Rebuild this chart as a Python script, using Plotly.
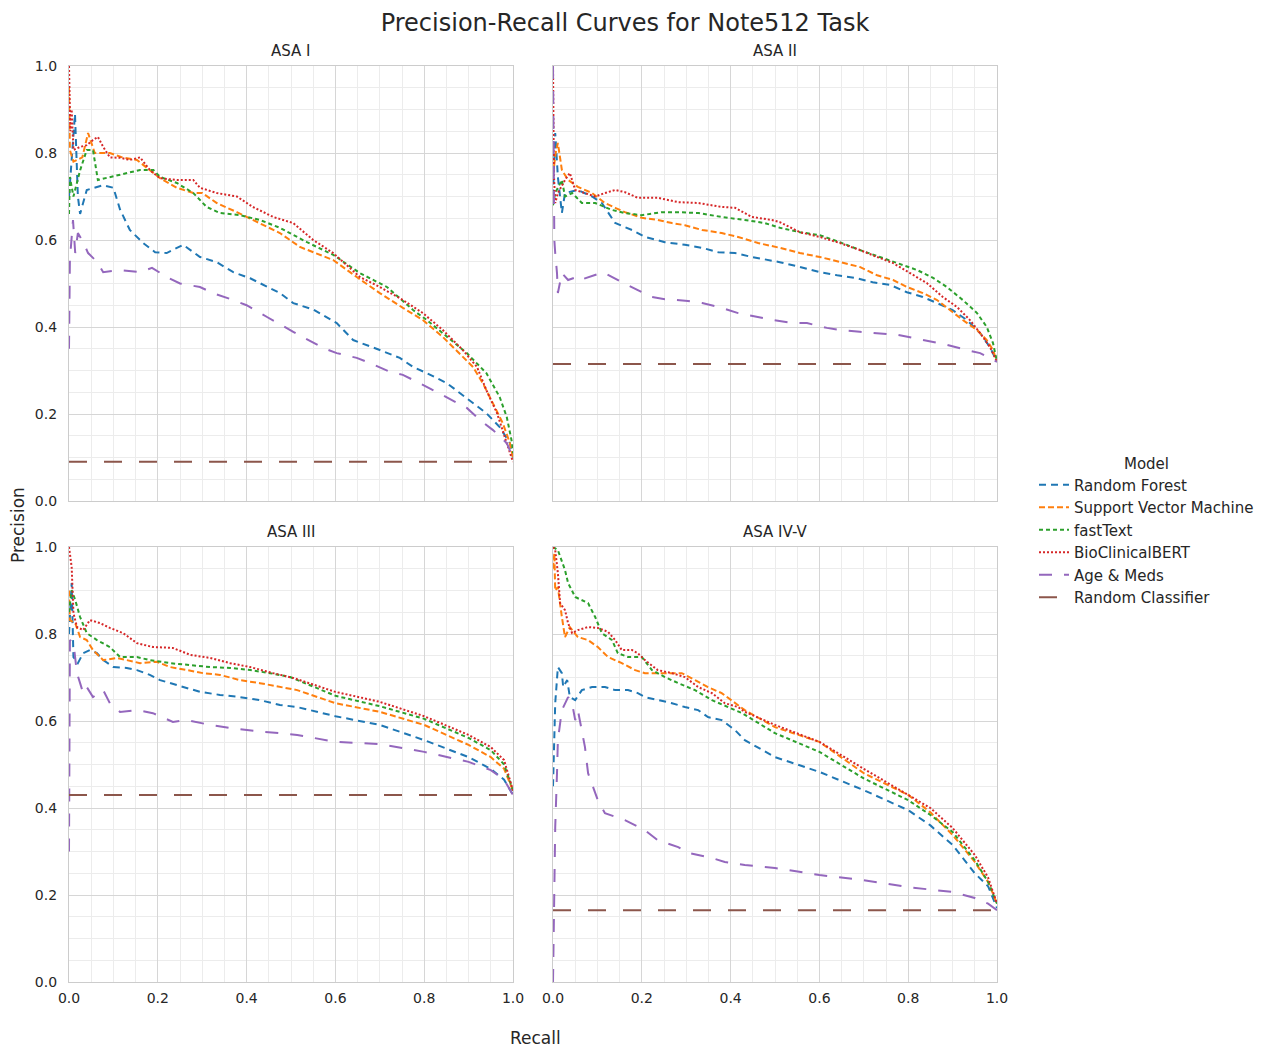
import plotly.graph_objects as go

# The page body has an 8px margin, so the figure is drawn 8px in from the window edge.
OFF = 8
W, H = 1263 - OFF, 1046 - OFF

models = ["Random Forest", "Support Vector Machine", "fastText", "BioClinicalBERT", "Age & Meds"]
panels = ["ASA I", "ASA II", "ASA III", "ASA IV-V"]
baseline_precision = [0.09, 0.315, 0.43, 0.165]
ticks = [0.0, 0.2, 0.4, 0.6, 0.8, 1.0]

# ---------------- ASA I ----------------
asa1_rf_recall = [0, 0.005, 0.0135, 0.02, 0.025, 0.04, 0.077, 0.1, 0.115, 0.137, 0.167, 0.194, 0.22, 0.257, 0.295, 0.333, 0.37, 0.408, 0.446, 0.475, 0.505, 0.55, 0.603, 0.64, 0.70, 0.745, 0.775, 0.806, 0.851, 0.88, 0.91, 0.94, 0.97, 0.993, 1.0]
asa1_rf_precision = [0.70, 0.78, 0.89, 0.70, 0.66, 0.715, 0.726, 0.72, 0.67, 0.623, 0.593, 0.572, 0.57, 0.589, 0.561, 0.549, 0.526, 0.512, 0.492, 0.478, 0.455, 0.44, 0.409, 0.37, 0.347, 0.329, 0.308, 0.294, 0.271, 0.248, 0.225, 0.202, 0.17, 0.133, 0.10]
asa1_svm_recall = [0, 0.002, 0.01, 0.03, 0.043, 0.058, 0.092, 0.12, 0.153, 0.182, 0.205, 0.243, 0.28, 0.30, 0.333, 0.378, 0.43, 0.475, 0.52, 0.595, 0.648, 0.70, 0.752, 0.797, 0.842, 0.887, 0.91, 0.932, 0.955, 0.977, 0.993, 1.0]
asa1_svm_precision = [0.95, 0.807, 0.78, 0.79, 0.846, 0.80, 0.80, 0.79, 0.784, 0.76, 0.742, 0.72, 0.708, 0.708, 0.685, 0.664, 0.639, 0.616, 0.584, 0.554, 0.515, 0.478, 0.444, 0.416, 0.377, 0.331, 0.308, 0.271, 0.225, 0.179, 0.133, 0.10]
asa1_ft_recall = [0, 0.002, 0.01, 0.025, 0.04, 0.054, 0.065, 0.092, 0.13, 0.16, 0.19, 0.205, 0.243, 0.28, 0.31, 0.34, 0.385, 0.43, 0.475, 0.536, 0.595, 0.655, 0.716, 0.775, 0.806, 0.851, 0.896, 0.94, 0.97, 0.986, 0.998, 1.0]
asa1_ft_precision = [0.66, 0.745, 0.70, 0.76, 0.807, 0.807, 0.738, 0.745, 0.754, 0.761, 0.761, 0.745, 0.731, 0.708, 0.676, 0.662, 0.657, 0.646, 0.628, 0.595, 0.566, 0.524, 0.492, 0.439, 0.416, 0.377, 0.34, 0.294, 0.239, 0.193, 0.133, 0.11]
asa1_bert_recall = [0, 0.003, 0.006, 0.01, 0.025, 0.04, 0.054, 0.065, 0.077, 0.092, 0.115, 0.137, 0.16, 0.182, 0.205, 0.243, 0.28, 0.295, 0.333, 0.378, 0.414, 0.46, 0.505, 0.55, 0.595, 0.655, 0.70, 0.752, 0.797, 0.842, 0.887, 0.919, 0.94, 0.964, 0.986, 1.0]
asa1_bert_precision = [1.0, 0.85, 0.9, 0.807, 0.814, 0.818, 0.83, 0.837, 0.814, 0.79, 0.789, 0.784, 0.79, 0.761, 0.742, 0.738, 0.738, 0.72, 0.708, 0.70, 0.676, 0.653, 0.639, 0.60, 0.57, 0.515, 0.492, 0.462, 0.432, 0.393, 0.347, 0.308, 0.255, 0.202, 0.133, 0.09]
asa1_age_recall = [0, 0.002, 0.009, 0.014, 0.02, 0.032, 0.043, 0.063, 0.077, 0.115, 0.16, 0.187, 0.22, 0.25, 0.295, 0.324, 0.37, 0.40, 0.446, 0.468, 0.505, 0.572, 0.603, 0.648, 0.678, 0.723, 0.752, 0.797, 0.82, 0.865, 0.896, 0.926, 0.955, 0.986, 1.0]
asa1_age_precision = [0.35, 0.554, 0.646, 0.57, 0.616, 0.595, 0.57, 0.55, 0.526, 0.531, 0.526, 0.536, 0.515, 0.50, 0.492, 0.478, 0.462, 0.45, 0.423, 0.411, 0.389, 0.352, 0.34, 0.329, 0.317, 0.297, 0.29, 0.267, 0.255, 0.232, 0.214, 0.186, 0.163, 0.133, 0.10]

# ---------------- ASA II ----------------
asa2_rf_recall = [0, 0.005, 0.011, 0.02, 0.027, 0.056, 0.088, 0.11, 0.14, 0.178, 0.207, 0.252, 0.297, 0.336, 0.372, 0.41, 0.448, 0.484, 0.511, 0.556, 0.601, 0.64, 0.685, 0.72, 0.759, 0.797, 0.833, 0.865, 0.90, 0.932, 0.962, 0.984, 1.0]
asa2_rf_precision = [0.70, 0.846, 0.745, 0.662, 0.708, 0.715, 0.70, 0.685, 0.639, 0.623, 0.607, 0.595, 0.589, 0.582, 0.572, 0.57, 0.561, 0.554, 0.549, 0.538, 0.526, 0.519, 0.512, 0.503, 0.497, 0.48, 0.469, 0.455, 0.439, 0.416, 0.386, 0.354, 0.32]
asa2_svm_recall = [0, 0.006, 0.011, 0.016, 0.02, 0.034, 0.056, 0.088, 0.117, 0.14, 0.162, 0.20, 0.236, 0.268, 0.297, 0.336, 0.38, 0.417, 0.462, 0.511, 0.556, 0.601, 0.646, 0.691, 0.73, 0.766, 0.797, 0.833, 0.865, 0.894, 0.923, 0.955, 0.977, 0.991, 1.0]
asa2_svm_precision = [0.75, 0.80, 0.823, 0.784, 0.761, 0.738, 0.722, 0.708, 0.685, 0.674, 0.664, 0.651, 0.646, 0.639, 0.634, 0.623, 0.616, 0.607, 0.593, 0.582, 0.57, 0.561, 0.549, 0.538, 0.519, 0.508, 0.492, 0.478, 0.462, 0.439, 0.416, 0.393, 0.37, 0.347, 0.32]
asa2_ft_recall = [0, 0.005, 0.02, 0.027, 0.043, 0.065, 0.095, 0.133, 0.162, 0.20, 0.245, 0.282, 0.327, 0.38, 0.432, 0.477, 0.511, 0.556, 0.601, 0.646, 0.691, 0.736, 0.78, 0.82, 0.856, 0.887, 0.923, 0.955, 0.977, 0.991, 1.0]
asa2_ft_precision = [0.68, 0.708, 0.738, 0.70, 0.708, 0.685, 0.685, 0.669, 0.662, 0.657, 0.664, 0.664, 0.662, 0.653, 0.646, 0.639, 0.628, 0.618, 0.611, 0.595, 0.577, 0.561, 0.547, 0.531, 0.513, 0.492, 0.462, 0.432, 0.40, 0.363, 0.32]
asa2_bert_recall = [0, 0.002, 0.005, 0.011, 0.027, 0.038, 0.05, 0.072, 0.095, 0.117, 0.14, 0.162, 0.191, 0.236, 0.282, 0.327, 0.38, 0.41, 0.448, 0.493, 0.511, 0.556, 0.601, 0.646, 0.691, 0.73, 0.766, 0.804, 0.842, 0.878, 0.91, 0.939, 0.962, 0.984, 1.0]
asa2_bert_precision = [1.0, 0.75, 0.685, 0.708, 0.738, 0.754, 0.715, 0.708, 0.70, 0.708, 0.715, 0.71, 0.697, 0.697, 0.687, 0.685, 0.676, 0.674, 0.653, 0.646, 0.641, 0.618, 0.607, 0.593, 0.577, 0.561, 0.547, 0.524, 0.501, 0.469, 0.446, 0.416, 0.386, 0.354, 0.32]
asa2_age_recall = [0, 0.001, 0.003, 0.005, 0.009, 0.011, 0.02, 0.034, 0.054, 0.061, 0.095, 0.113, 0.155, 0.18, 0.223, 0.252, 0.304, 0.336, 0.38, 0.417, 0.462, 0.496, 0.541, 0.572, 0.617, 0.646, 0.691, 0.73, 0.775, 0.811, 0.856, 0.887, 0.932, 0.962, 1.0]
asa2_age_precision = [1.0, 0.75, 0.60, 0.57, 0.524, 0.478, 0.524, 0.508, 0.515, 0.508, 0.519, 0.526, 0.503, 0.49, 0.469, 0.464, 0.46, 0.455, 0.444, 0.432, 0.423, 0.416, 0.409, 0.409, 0.398, 0.393, 0.389, 0.386, 0.382, 0.375, 0.366, 0.359, 0.347, 0.34, 0.32]

# ---------------- ASA III ----------------
asa3_rf_recall = [0, 0.006, 0.01, 0.02, 0.032, 0.047, 0.063, 0.077, 0.10, 0.13, 0.153, 0.182, 0.205, 0.228, 0.257, 0.295, 0.34, 0.385, 0.43, 0.475, 0.514, 0.6, 0.7, 0.8, 0.9, 0.95, 0.98, 1.0]
asa3_rf_precision = [0.80, 0.917, 0.747, 0.733, 0.756, 0.763, 0.756, 0.74, 0.724, 0.722, 0.717, 0.706, 0.694, 0.687, 0.678, 0.667, 0.66, 0.655, 0.648, 0.637, 0.632, 0.611, 0.591, 0.556, 0.517, 0.49, 0.465, 0.43]
asa3_svm_recall = [0, 0.002, 0.014, 0.025, 0.04, 0.054, 0.077, 0.108, 0.13, 0.16, 0.198, 0.228, 0.266, 0.302, 0.34, 0.385, 0.43, 0.475, 0.514, 0.6, 0.7, 0.8, 0.9, 0.95, 0.98, 1.0]
asa3_svm_precision = [0.90, 0.832, 0.825, 0.793, 0.786, 0.763, 0.74, 0.745, 0.74, 0.733, 0.736, 0.724, 0.717, 0.71, 0.706, 0.694, 0.687, 0.678, 0.671, 0.641, 0.621, 0.591, 0.545, 0.517, 0.49, 0.44]
asa3_ft_recall = [0, 0.006, 0.014, 0.025, 0.04, 0.063, 0.092, 0.115, 0.153, 0.182, 0.228, 0.273, 0.318, 0.363, 0.408, 0.453, 0.498, 0.6, 0.7, 0.8, 0.9, 0.95, 0.98, 1.0]
asa3_ft_precision = [0.85, 0.901, 0.878, 0.839, 0.802, 0.786, 0.77, 0.747, 0.747, 0.74, 0.733, 0.729, 0.724, 0.722, 0.717, 0.71, 0.701, 0.658, 0.634, 0.605, 0.561, 0.533, 0.50, 0.44]
asa3_bert_recall = [0, 0.003, 0.006, 0.01, 0.018, 0.032, 0.047, 0.07, 0.092, 0.122, 0.153, 0.189, 0.234, 0.273, 0.318, 0.363, 0.408, 0.46, 0.505, 0.6, 0.7, 0.8, 0.9, 0.95, 0.98, 1.0]
asa3_bert_precision = [1.0, 0.98, 0.954, 0.848, 0.816, 0.809, 0.832, 0.825, 0.814, 0.802, 0.779, 0.77, 0.768, 0.752, 0.745, 0.733, 0.724, 0.71, 0.699, 0.667, 0.644, 0.611, 0.568, 0.54, 0.51, 0.44]
asa3_age_recall = [0, 0.002, 0.01, 0.018, 0.025, 0.032, 0.04, 0.054, 0.077, 0.092, 0.115, 0.153, 0.189, 0.234, 0.266, 0.318, 0.363, 0.40, 0.437, 0.475, 0.514, 0.6, 0.7, 0.8, 0.9, 0.95, 0.98, 1.0]
asa3_age_precision = [0.30, 0.786, 0.779, 0.71, 0.687, 0.664, 0.678, 0.655, 0.671, 0.641, 0.621, 0.625, 0.618, 0.598, 0.602, 0.591, 0.584, 0.579, 0.575, 0.572, 0.568, 0.552, 0.547, 0.529, 0.506, 0.487, 0.465, 0.43]

# ---------------- ASA IV-V ----------------
asa4_rf_recall = [0, 0.005, 0.011, 0.02, 0.023, 0.032, 0.038, 0.05, 0.065, 0.088, 0.117, 0.14, 0.169, 0.191, 0.207, 0.236, 0.268, 0.297, 0.327, 0.349, 0.38, 0.41, 0.432, 0.5, 0.6, 0.7, 0.8, 0.85, 0.9, 0.95, 0.98, 1.0]
asa4_rf_precision = [0.45, 0.641, 0.724, 0.71, 0.678, 0.694, 0.655, 0.648, 0.671, 0.678, 0.678, 0.671, 0.671, 0.664, 0.655, 0.648, 0.641, 0.632, 0.625, 0.609, 0.602, 0.579, 0.556, 0.517, 0.483, 0.441, 0.395, 0.36, 0.315, 0.25, 0.22, 0.17]
asa4_svm_recall = [0, 0.003, 0.005, 0.011, 0.02, 0.027, 0.038, 0.056, 0.079, 0.101, 0.124, 0.155, 0.185, 0.207, 0.236, 0.268, 0.29, 0.32, 0.349, 0.38, 0.41, 0.432, 0.5, 0.6, 0.7, 0.8, 0.85, 0.9, 0.95, 0.98, 1.0]
asa4_svm_precision = [0.95, 0.986, 0.90, 0.908, 0.839, 0.793, 0.816, 0.793, 0.786, 0.77, 0.747, 0.733, 0.717, 0.71, 0.71, 0.71, 0.71, 0.694, 0.678, 0.664, 0.641, 0.625, 0.586, 0.552, 0.48, 0.43, 0.39, 0.338, 0.276, 0.23, 0.18]
asa4_ft_recall = [0, 0.011, 0.027, 0.034, 0.05, 0.065, 0.079, 0.095, 0.11, 0.133, 0.146, 0.169, 0.20, 0.223, 0.252, 0.282, 0.32, 0.358, 0.394, 0.426, 0.5, 0.6, 0.7, 0.8, 0.85, 0.9, 0.95, 0.98, 1.0]
asa4_ft_precision = [1.0, 0.993, 0.947, 0.917, 0.885, 0.878, 0.871, 0.839, 0.802, 0.786, 0.756, 0.747, 0.747, 0.717, 0.701, 0.687, 0.671, 0.648, 0.632, 0.618, 0.572, 0.529, 0.468, 0.418, 0.384, 0.345, 0.28, 0.23, 0.18]
asa4_bert_recall = [0, 0.005, 0.011, 0.016, 0.027, 0.034, 0.043, 0.056, 0.079, 0.101, 0.124, 0.14, 0.155, 0.178, 0.191, 0.207, 0.236, 0.268, 0.297, 0.327, 0.358, 0.387, 0.417, 0.432, 0.5, 0.6, 0.7, 0.8, 0.85, 0.9, 0.95, 0.98, 1.0]
asa4_bert_precision = [1.0, 0.993, 0.94, 0.871, 0.855, 0.825, 0.802, 0.809, 0.816, 0.814, 0.805, 0.786, 0.763, 0.763, 0.756, 0.74, 0.717, 0.71, 0.701, 0.678, 0.664, 0.641, 0.632, 0.621, 0.591, 0.552, 0.49, 0.43, 0.40, 0.354, 0.292, 0.24, 0.18]
asa4_age_recall = [0, 0.003, 0.005, 0.009, 0.011, 0.02, 0.034, 0.043, 0.05, 0.056, 0.065, 0.072, 0.079, 0.101, 0.117, 0.14, 0.162, 0.207, 0.236, 0.282, 0.304, 0.358, 0.387, 0.432, 0.5, 0.6, 0.7, 0.8, 0.9, 0.95, 0.98, 1.0]
asa4_age_precision = [0.0, 0.2, 0.356, 0.48, 0.556, 0.625, 0.655, 0.641, 0.602, 0.625, 0.572, 0.54, 0.48, 0.418, 0.388, 0.379, 0.372, 0.349, 0.326, 0.31, 0.297, 0.285, 0.276, 0.269, 0.262, 0.246, 0.234, 0.218, 0.207, 0.193, 0.18, 0.165]

curves = [
    [(asa1_rf_recall, asa1_rf_precision), (asa1_svm_recall, asa1_svm_precision), (asa1_ft_recall, asa1_ft_precision), (asa1_bert_recall, asa1_bert_precision), (asa1_age_recall, asa1_age_precision)],
    [(asa2_rf_recall, asa2_rf_precision), (asa2_svm_recall, asa2_svm_precision), (asa2_ft_recall, asa2_ft_precision), (asa2_bert_recall, asa2_bert_precision), (asa2_age_recall, asa2_age_precision)],
    [(asa3_rf_recall, asa3_rf_precision), (asa3_svm_recall, asa3_svm_precision), (asa3_ft_recall, asa3_ft_precision), (asa3_bert_recall, asa3_bert_precision), (asa3_age_recall, asa3_age_precision)],
    [(asa4_rf_recall, asa4_rf_precision), (asa4_svm_recall, asa4_svm_precision), (asa4_ft_recall, asa4_ft_precision), (asa4_bert_recall, asa4_bert_precision), (asa4_age_recall, asa4_age_precision)],
]

colors = ["#1f77b4", "#ff7f0e", "#2ca02c", "#d62728", "#9467bd"]
dashes = ["7px,5px", "6px,3px", "4px,3px", "2px,2px", "13px,12px"]
base_color = "#8c564b"
base_dash = "18px,17px"

TXT = "#262626"
FONT = "DejaVu Sans"

# pixel geometry of the panels (window pixels, converted to figure pixels with OFF)
px_left = [69 - OFF, 553 - OFF]
px_width = 444
py_top = [66 - OFF, 547 - OFF]
py_height = 435

fig = go.Figure()

for p in range(4):
    sfx = "" if p == 0 else str(p + 1)
    for m in range(5):
        r, pr = curves[p][m]
        fig.add_trace(go.Scatter(
            x=r, y=pr, mode="lines", name=models[m], legendgroup=models[m],
            showlegend=(p == 0), line=dict(color=colors[m], width=2, dash=dashes[m]),
            xaxis="x" + sfx, yaxis="y" + sfx))
    fig.add_trace(go.Scatter(
        x=[0, 1], y=[baseline_precision[p]] * 2, mode="lines", name="Random Classifier",
        legendgroup="Random Classifier", showlegend=(p == 0),
        line=dict(color=base_color, width=2, dash=base_dash),
        xaxis="x" + sfx, yaxis="y" + sfx))

layout = dict(
    width=W, height=H, margin=dict(l=0, r=0, t=0, b=0),
    paper_bgcolor="white", plot_bgcolor="white",
    font=dict(family=FONT, size=14, color=TXT),
    title=dict(text="Precision-Recall Curves for Note512 Task", x=(625 - OFF) / W, xanchor="center",
               y=1 - (23 - OFF) / H, yanchor="middle", font=dict(size=24, color=TXT)),
    legend=dict(x=(1034 - OFF) / W, y=1 - (449 - OFF) / H, xanchor="left", yanchor="top",
                title=dict(text="Model", side="top center", font=dict(size=15)),
                font=dict(size=15, color=TXT), bgcolor="rgba(0,0,0,0)", tracegroupgap=0),
    showlegend=True,
)

annotations = []
for p in range(4):
    col, row = p % 2, p // 2
    sfx = "" if p == 0 else str(p + 1)
    x0 = px_left[col] / W
    x1 = (px_left[col] + px_width) / W
    y1 = 1 - py_top[row] / H
    y0 = 1 - (py_top[row] + py_height) / H
    common = dict(range=[0, 1], tickvals=ticks, ticktext=[f"{t:.1f}" for t in ticks],
                  showgrid=True, gridcolor="#d6d6d6", gridwidth=1.2, zeroline=False,
                  showline=True, mirror=True, linecolor="#cccccc", linewidth=1.2,
                  ticks="", automargin=False, fixedrange=True,
                  tickfont=dict(size=14, color=TXT),
                  minor=dict(dtick=0.05, tick0=0, showgrid=True, gridcolor="#ececec", gridwidth=1))
    layout["xaxis" + sfx] = dict(common, domain=[x0, x1], anchor="y" + sfx,
                                 showticklabels=(row == 1), ticklabelstandoff=3)
    layout["yaxis" + sfx] = dict(common, domain=[y0, y1], anchor="x" + sfx,
                                 showticklabels=(col == 0), ticklabelstandoff=8)
    annotations.append(dict(text=panels[p], x=(x0 + x1) / 2, y=1 - (py_top[row] - 15) / H,
                            xref="paper", yref="paper", showarrow=False,
                            xanchor="center", yanchor="middle", font=dict(size=15, color=TXT)))

annotations.append(dict(text="Precision", x=(18 - OFF) / W, y=1 - (525 - OFF) / H, xref="paper", yref="paper",
                        showarrow=False, textangle=-90, xanchor="center", yanchor="middle",
                        font=dict(size=17, color=TXT)))
annotations.append(dict(text="Recall", x=(535 - OFF) / W, y=1 - (1038 - OFF) / H, xref="paper", yref="paper",
                        showarrow=False, xanchor="center", yanchor="middle",
                        font=dict(size=17, color=TXT)))
layout["annotations"] = annotations

fig.update_layout(layout)
fig.write_html("out.html")
